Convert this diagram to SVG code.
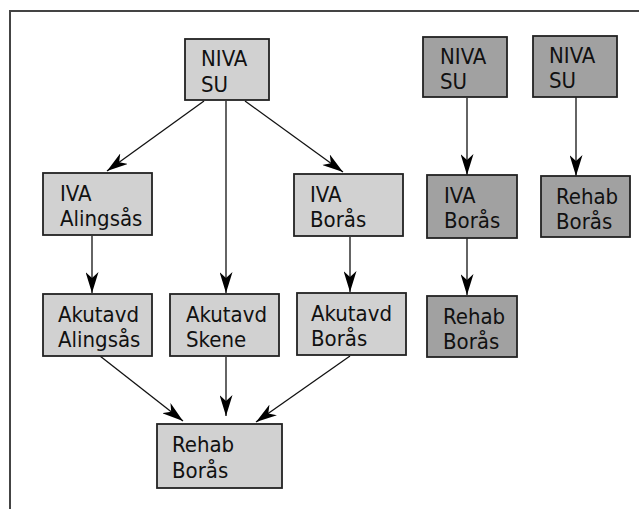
<svg xmlns="http://www.w3.org/2000/svg" width="639" height="509" viewBox="0 0 639 509">
<style>
.box rect{stroke:#222;stroke-width:1.8}
.l rect{fill:#d1d1d1}
.d rect{fill:#a1a1a1}
text{font-family:"DejaVu Sans Condensed","DejaVu Sans",sans-serif;font-stretch:condensed;font-size:22px;fill:#111}
.c line{stroke:#111;stroke-width:1.3;marker-end:url(#ah)}
</style>
<defs>
<marker id="ah" markerUnits="userSpaceOnUse" markerWidth="22" markerHeight="13" refX="21" refY="6.5" orient="auto" viewBox="0 0 22 13">
<path d="M0,0 L21,6.5 L0,13 L6,6.5 z" fill="#000"/>
</marker>
</defs>
<rect width="639" height="509" fill="#fff"/>
<path d="M10,509 V11 H639" fill="none" stroke="#444" stroke-width="2"/>
<g class="c">
<line x1="204" y1="101" x2="107" y2="171"/>
<line x1="226" y1="101" x2="226" y2="293"/>
<line x1="245" y1="101" x2="343" y2="172"/>
<line x1="92" y1="236" x2="92" y2="293"/>
<line x1="350" y1="237" x2="350" y2="292"/>
<line x1="467" y1="98" x2="467" y2="175"/>
<line x1="576" y1="97" x2="576" y2="176"/>
<line x1="467" y1="238" x2="467" y2="295"/>
<line x1="100" y1="356" x2="183" y2="421"/>
<line x1="226" y1="357" x2="226" y2="416"/>
<line x1="350" y1="356" x2="256" y2="422"/>
</g>
<g id="niva1" class="box l"><rect x="185" y="39" width="84" height="61"/><text x="201" y="66">NIVA</text><text x="201" y="92">SU</text></g>
<g id="iva-alingsas" class="box l"><rect x="43" y="173" width="109" height="62"/><text x="60" y="201">IVA</text><text x="60" y="226">Alingsås</text></g>
<g id="iva-boras" class="box l"><rect x="294" y="174" width="109" height="62"/><text x="310" y="202">IVA</text><text x="310" y="227">Borås</text></g>
<g id="akut-alingsas" class="box l"><rect x="43" y="294" width="109" height="62"/><text x="58" y="322">Akutavd</text><text x="58" y="347">Alingsås</text></g>
<g id="akut-skene" class="box l"><rect x="170" y="294" width="109" height="62"/><text x="186" y="322">Akutavd</text><text x="186" y="347">Skene</text></g>
<g id="akut-boras" class="box l"><rect x="297" y="293" width="109" height="62"/><text x="311" y="321">Akutavd</text><text x="311" y="346">Borås</text></g>
<g id="rehab1" class="box l"><rect x="157" y="424" width="125" height="64"/><text x="172" y="452">Rehab</text><text x="172" y="478">Borås</text></g>
<g id="niva2" class="box d"><rect x="423" y="37" width="84" height="60"/><text x="440" y="64">NIVA</text><text x="440" y="89">SU</text></g>
<g id="niva3" class="box d"><rect x="533" y="36" width="84" height="61"/><text x="549" y="63">NIVA</text><text x="549" y="88">SU</text></g>
<g id="iva-boras2" class="box d"><rect x="427" y="175" width="90" height="63"/><text x="444" y="203">IVA</text><text x="444" y="228">Borås</text></g>
<g id="rehab2" class="box d"><rect x="427" y="296" width="90" height="61"/><text x="443" y="324">Rehab</text><text x="443" y="349">Borås</text></g>
<g id="rehab3" class="box d"><rect x="541" y="176" width="89" height="61"/><text x="556" y="204">Rehab</text><text x="556" y="229">Borås</text></g>
</svg>
